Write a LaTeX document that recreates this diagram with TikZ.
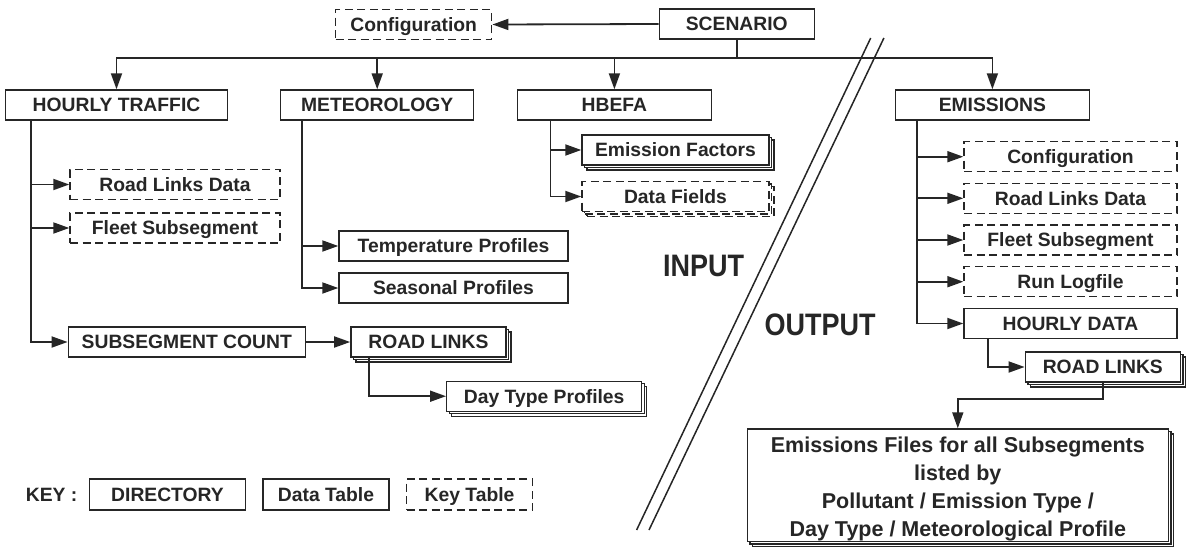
\documentclass[tikz,border=0pt]{standalone}
\usepackage{fontspec}
\setmainfont{Liberation Sans}
\usetikzlibrary{arrows.meta,shadows}
\newcommand\boxfont{\bfseries\fontsize{19.3}{23}\selectfont}
\colorlet{ink}{black!85}
\begin{document}
\begin{tikzpicture}[x=1pt,y=-1pt,
		frame/.style={draw=ink,text=ink,line width=1.4pt,fill=white,inner sep=0pt,font=\boxfont},
		dirbox/.style={frame,minimum height=30pt,text height=13.9pt,text depth=0pt},
		keybox/.style={dirbox,dash pattern=on 8pt off 4.5pt},
		stack/.style={copy shadow={shadow xshift=5pt,shadow yshift=-5pt,draw=ink},
			copy shadow={shadow xshift=2.5pt,shadow yshift=-2.5pt,draw=ink}},
		outbox/.style={frame,stack,align=center,font=\bfseries\fontsize{21.5}{27.7}\selectfont},
		arr/.style={draw=ink,line width=1.8pt,-{Triangle[length=16pt,width=11pt]}}]
	\useasboundingbox (0,0) rectangle (1192,555);
	% Kopf
	\node[keybox,minimum width=156pt] (cfg) at (413.7,24.5) {Configuration};
	\node[dirbox,minimum width=155pt] (sc) at (736.8,24) {SCENARIO};
	% Verzeichnisse
	\node[dirbox,minimum width=222pt] (ht) at (116.5,105) {HOURLY TRAFFIC};
	\node[dirbox,minimum width=193pt] (met) at (377.2,105) {METEOROLOGY};
	\node[dirbox,minimum width=194pt] (hb) at (614.4,105) {HBEFA};
	\node[dirbox,minimum width=194pt] (em) at (992.4,105) {EMISSIONS};
	% Input
	\node[keybox,minimum width=210pt] (rld) at (175,184.5) {Road Links Data};
	\node[keybox,minimum width=210pt] (fsg) at (175,228) {Fleet Subsegment};
	\node[dirbox,minimum width=237pt] (sgc) at (186.8,342) {SUBSEGMENT COUNT};
	\node[dirbox,stack,minimum width=155pt] (rl1) at (428.4,342) {ROAD LINKS};
	\node[dirbox,stack,minimum width=195pt] (dtp) at (544.2,396.2) {Day Type Profiles};
	\node[dirbox,minimum width=229pt] (tpf) at (453.5,246) {Temperature Profiles};
	\node[dirbox,minimum width=229pt] (spf) at (453.5,288) {Seasonal Profiles};
	\node[dirbox,stack,minimum width=187pt] (efc) at (675.5,150) {Emission Factors};
	\node[keybox,stack,minimum width=187pt] (dfd) at (675.5,196.5) {Data Fields};
	% Output
	\node[keybox,minimum width=213pt] (ecfg) at (1070.5,156.7) {Configuration};
	\node[keybox,minimum width=213pt] (erld) at (1070.5,198.3) {Road Links Data};
	\node[keybox,minimum width=213pt] (efsg) at (1070.5,240) {Fleet Subsegment};
	\node[keybox,minimum width=213pt] (elog) at (1070.5,281.7) {Run Logfile};
	\node[dirbox,minimum width=213pt] (hd) at (1070.5,323.5) {HOURLY DATA};
	\node[dirbox,stack,minimum width=155pt] (rl2) at (1102.8,367) {ROAD LINKS};
	\node[outbox,minimum width=421pt,minimum height=112.7pt] (out) at (957.8,485.3)
		{\rule{0pt}{23pt}Emissions Files for all Subsegments\\listed by\\Pollutant / Emission Type /\\Day Type / Meteorological Profile};
	% Trennung
	\draw[ink,line width=1.5pt] (870.7,38) -- (636.6,530);
	\draw[ink,line width=1.5pt] (883.9,38) -- (649,530);
	\node[text=ink,font=\bfseries\fontsize{27}{30}\selectfont] (lin) at (703.5,266) {\scalebox{1}[1.15]{INPUT}};
	\node[text=ink,font=\bfseries\fontsize{27}{30}\selectfont] (lout) at (820,324.5) {\scalebox{1}[1.15]{OUTPUT}};
	% Legende
	\node[text=ink,font=\boxfont,inner sep=0pt,text height=13.9pt,text depth=0pt] (key) at (51.6,494.5) {KEY :};
	\node[dirbox,minimum width=156pt,minimum height=31pt] (kdir) at (167.5,494.5) {DIRECTORY};
	\node[dirbox,minimum width=126pt,minimum height=31pt] (ktab) at (326,494.5) {Data Table};
	\node[keybox,minimum width=126pt,minimum height=31pt] (kkey) at (469.6,494.5) {Key Table};
	% Verbindungen
	\draw[arr] (sc.west) -- (cfg.east);
	\foreach \n in {ht,met,hb,em}
		\draw[arr] (sc.south) -- ++(0,18) -| (\n.north);
	\foreach \n in {rld,fsg,sgc}
		\draw[arr] ([xshift=26.4pt]ht.south west) |- (\n.west);
	\foreach \n in {tpf,spf}
		\draw[arr] ([xshift=21.8pt]met.south west) |- (\n.west);
	\foreach \n in {efc,dfd}
		\draw[arr] ([xshift=33.7pt]hb.south west) |- (\n.west);
	\draw[arr] (sgc.east) -- (rl1.west);
	\draw[arr] ([xshift=18.4pt]rl1.south west) |- (dtp.west);
	\foreach \n in {ecfg,erld,efsg,elog,hd}
		\draw[arr] ([xshift=22.3pt]em.south west) |- (\n.west);
	\draw[arr] ([xshift=24.8pt]hd.south west) |- (rl2.west);
	\draw[arr] (rl2.south) -- ++(0,16) -| (out.north);
\end{tikzpicture}
\end{document}
